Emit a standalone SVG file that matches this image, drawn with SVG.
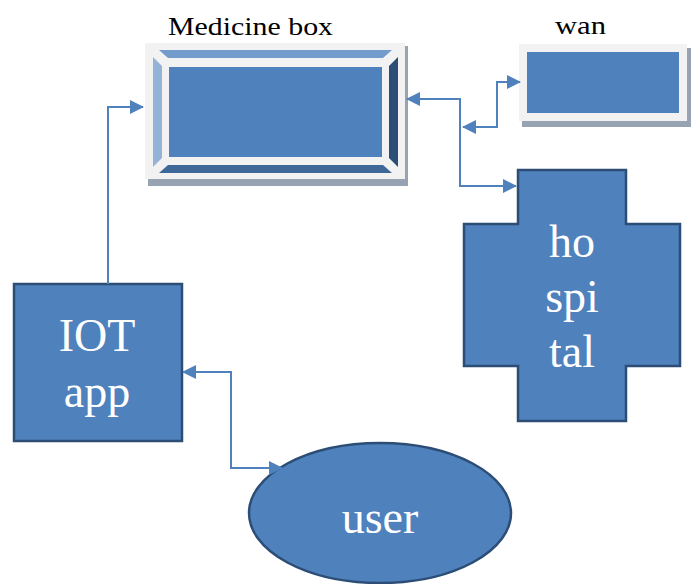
<svg xmlns="http://www.w3.org/2000/svg" width="694" height="584" viewBox="0 0 694 584">
  <defs>
    <style>
      .lbl { font-family: "Liberation Serif", "DejaVu Serif", serif; fill: #000; font-size: 26px; }
      .big { font-family: "Liberation Serif", "DejaVu Serif", serif; fill: #fff; font-size: 46px; text-anchor: middle; }
      .face { fill: #4f81bd; }
      .edge { fill: #4f81bd; stroke: #2c4d75; stroke-width: 2.5; }
      .frame { fill: #f2f2f2; }
      .shadow { fill: #97a3b3; }
      .conn { fill: none; stroke: #4f81bd; stroke-width: 2; }
    </style>
    <marker id="arr" viewBox="0 0 14 14" refX="13" refY="7" markerWidth="14" markerHeight="14" markerUnits="userSpaceOnUse" orient="auto-start-reverse">
      <path d="M0,0 L14,7 L0,14 Z" fill="#4f81bd"/>
    </marker>
  </defs>
  <rect width="694" height="584" fill="#fff"/>

  <!-- Medicine box: bevelled panel -->
  <g id="medicine-box">
    <rect class="shadow" x="148" y="46" width="260" height="140"/>
    <rect class="frame" x="145" y="43" width="260" height="136"/>
    <polygon points="159,50 392,50 383,58 168,58" fill="#739bcc"/>
    <polygon points="153,57 162,66 162,158 153,167" fill="#95b3d7"/>
    <polygon points="398,57 389,66 389,158 398,167" fill="#2c4d75"/>
    <polygon points="168,165 383,165 392,173 159,173" fill="#3f6797"/>
    <rect class="face" x="169" y="67" width="213" height="90"/>
    <text class="lbl" x="168" y="35" textLength="165" lengthAdjust="spacingAndGlyphs">Medicine box</text>
  </g>

  <!-- WAN -->
  <g id="wan">
    <rect class="shadow" x="522" y="48" width="169" height="79"/>
    <rect class="frame" x="519" y="44" width="168" height="77"/>
    <rect class="face" x="527" y="52" width="152" height="61"/>
    <text class="lbl" x="555" y="34" textLength="51" lengthAdjust="spacingAndGlyphs">wan</text>
  </g>

  <!-- Hospital: cross shape -->
  <g id="hospital">
    <polygon class="edge" points="518,170 626,170 626,224 680,224 680,366 626,366 626,421 518,421 518,366 464,366 464,224 518,224"/>
    <text class="big" x="572" y="257">ho</text>
    <text class="big" x="572" y="312">spi</text>
    <text class="big" x="572" y="367">tal</text>
  </g>

  <!-- IOT app -->
  <g id="iot-app">
    <rect class="edge" x="14" y="284" width="168" height="157"/>
    <text class="big" x="97" y="351">IOT</text>
    <text class="big" x="97" y="407">app</text>
  </g>

  <!-- User -->
  <g id="user">
    <ellipse class="edge" cx="380" cy="513" rx="131" ry="70"/>
    <text class="big" x="380" y="533">user</text>
  </g>

  <!-- Connectors -->
  <g id="connectors">
    <path class="conn" d="M108,284 V107 H143" marker-end="url(#arr)"/>
    <path class="conn" d="M407,99 H460 V186 H516" marker-start="url(#arr)" marker-end="url(#arr)"/>
    <path class="conn" d="M463,127 H497 V82 H520" marker-start="url(#arr)" marker-end="url(#arr)"/>
    <path class="conn" d="M183,372 H231 V468 H282" marker-start="url(#arr)" marker-end="url(#arr)"/>
  </g>
</svg>
